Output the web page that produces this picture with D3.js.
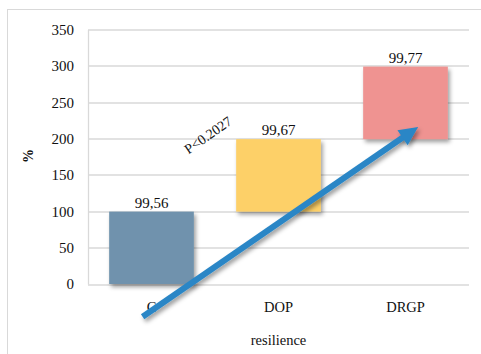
<!DOCTYPE html>
<html>
<head>
<meta charset="utf-8">
<script src="https://cdn.jsdelivr.net/npm/d3@7"></script>
<style>
  html, body { margin: 0; padding: 0; background: #fff; }
  svg text { font-family: "Liberation Serif", "DejaVu Serif", serif !important; }
</style>
</head>
<body>
<svg id="chart" width="481" height="354"></svg>
<script>
// Resilience by group: each bar floats on top of the previous ones (waterfall)
const categories = ["C", "DOP", "DRGP"];
const values = [99.56, 99.67, 99.77];
const barColors = ["#6f92ad", "#fdd067", "#ef9391"];
const yTicks = [0, 50, 100, 150, 200, 250, 300, 350];
const yTitle = "%";
const xTitle = "resilience";
const pLabel = "P<0.2027";
// trend arrow end points: [category, offset within band (fraction of step), value]
const arrowFrom = ["C", -0.07, -45];
const arrowTo = ["DRGP", 0.10, 216];

const svg = d3.select("#chart");
const W = 481, H = 354;
const margin = { left: 88, right: 12, top: 29.5, bottom: 70 };
const plotW = W - margin.left - margin.right;
const plotH = H - margin.top - margin.bottom;

// cumulative starts/ends for floating bars
let acc = 0;
const bars = categories.map((c, i) => {
  const start = acc;
  acc += values[i];
  return { cat: c, value: values[i], start, end: acc, color: barColors[i] };
});

const x = d3.scaleBand().domain(categories).range([0, plotW]).paddingInner(1 / 3).paddingOuter(1 / 6);
const y = d3.scaleLinear().domain([0, 350]).range([plotH, 0]);

const defs = svg.append("defs");
const sh = defs.append("filter").attr("id", "shadow")
  .attr("x", "-20%").attr("y", "-20%").attr("width", "150%").attr("height", "150%");
sh.append("feDropShadow").attr("dx", 2).attr("dy", 3).attr("stdDeviation", 2)
  .attr("flood-color", "#000").attr("flood-opacity", 0.38);

// outer chart frame
svg.append("rect").attr("x", 7.5).attr("y", 9.5).attr("width", W).attr("height", H)
  .attr("fill", "#fff").attr("stroke", "#d9d9d9").attr("stroke-width", 1);

const g = svg.append("g").attr("transform", `translate(${margin.left},${margin.top})`);

// gridlines
g.append("g").selectAll("line").data(yTicks).join("line")
  .attr("x1", 0).attr("x2", plotW)
  .attr("y1", d => Math.round(y(d)) + 0.5).attr("y2", d => Math.round(y(d)) + 0.5)
  .attr("stroke", "#d9d9d9").attr("stroke-width", 1.3);

// y axis
const yAxis = g.append("g").call(d3.axisLeft(y).tickValues(yTicks).tickSize(0).tickPadding(14));
yAxis.select(".domain").attr("stroke", "#d9d9d9").attr("stroke-width", 1.3);
yAxis.selectAll("text").attr("font-size", 15).attr("fill", "#111");

// x axis labels
const xAxis = g.append("g").attr("transform", `translate(0,${plotH})`)
  .call(d3.axisBottom(x).tickSize(0).tickPadding(18));
xAxis.select(".domain").remove();
xAxis.selectAll("text").attr("font-size", 14.5).attr("fill", "#111");

// floating bars
g.append("g").selectAll("rect").data(bars).join("rect")
  .attr("x", d => x(d.cat))
  .attr("width", x.bandwidth())
  .attr("y", d => y(d.end))
  .attr("height", d => y(d.start) - y(d.end))
  .attr("fill", d => d.color)
  .attr("filter", "url(#shadow)");

// value labels
const fmt = v => v.toFixed(2).replace(".", ",");
g.append("g").selectAll("text").data(bars).join("text")
  .attr("x", d => x(d.cat) + x.bandwidth() / 2)
  .attr("y", d => y(d.end) - 4)
  .attr("text-anchor", "middle")
  .attr("font-size", 15)
  .attr("fill", "#111")
  .text(d => fmt(d.value));

// significance label
g.append("text")
  .attr("transform", `translate(${208 - margin.left},${135 - margin.top}) rotate(-35)`)
  .attr("text-anchor", "middle")
  .attr("dy", "0.35em")
  .attr("font-size", 14)
  .attr("fill", "#111")
  .text(pLabel);

// trend arrow
const px = a => x(a[0]) + x.bandwidth() / 2 + a[1] * x.step();
const x1 = px(arrowFrom), y1 = y(arrowFrom[2]);
const x2 = px(arrowTo), y2 = y(arrowTo[2]);
const ang = Math.atan2(y2 - y1, x2 - x1);
const headLen = 19, headHalf = 9;
const bx = x2 - headLen * Math.cos(ang), by = y2 - headLen * Math.sin(ang);
const nx = -Math.sin(ang), ny = Math.cos(ang);
const arrow = g.append("g").attr("filter", "url(#shadow)");
arrow.append("line")
  .attr("x1", x1).attr("y1", y1).attr("x2", bx + 2 * Math.cos(ang)).attr("y2", by + 2 * Math.sin(ang))
  .attr("stroke", "#2a86c6").attr("stroke-width", 6);
arrow.append("path")
  .attr("d", d3.line()([[x2, y2], [bx + nx * headHalf, by + ny * headHalf], [bx - nx * headHalf, by - ny * headHalf]]) + "Z")
  .attr("fill", "#2a86c6");

// axis titles
svg.append("text")
  .attr("transform", "translate(28,156) rotate(-90)")
  .attr("text-anchor", "middle")
  .attr("dy", "0.35em")
  .attr("font-size", 14)
  .attr("font-weight", "bold")
  .attr("fill", "#111")
  .text(yTitle);

svg.append("text")
  .attr("x", margin.left + plotW / 2)
  .attr("y", 345)
  .attr("text-anchor", "middle")
  .attr("font-size", 14.5)
  .attr("fill", "#111")
  .text(xTitle);
</script>
</body>
</html>
